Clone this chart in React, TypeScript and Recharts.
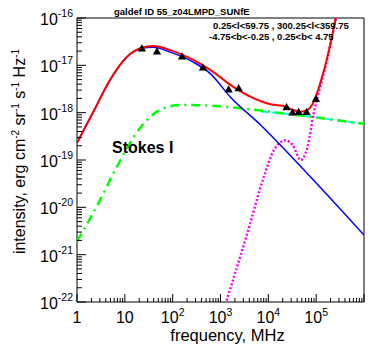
import { ComposedChart, Line, Scatter, XAxis, YAxis, ZAxis, ReferenceArea } from "recharts";

// frequency in MHz, intensity in erg cm^-2 sr^-1 s^-1 Hz^-1
const totalSpectrum = [
  { f: 1, v: 2.3e-19 },
  { f: 2.2, v: 1.05e-18 },
  { f: 4.9, v: 4.9e-18 },
  { f: 11, v: 1.5e-17 },
  { f: 21, v: 2.3e-17 },
  { f: 39, v: 2.55e-17 },
  { f: 89, v: 2.1e-17 },
  { f: 270, v: 1.3e-17 },
  { f: 620, v: 7.9e-18 },
  { f: 1860, v: 3.5e-18 },
  { f: 4300, v: 2.15e-18 },
  { f: 11000, v: 1.5e-18 },
  { f: 23000, v: 1.35e-18 },
  { f: 32000, v: 1.15e-18 },
  { f: 47000, v: 1.05e-18 },
  { f: 66000, v: 1.15e-18 },
  { f: 82000, v: 1.45e-18 },
  { f: 98000, v: 2.15e-18 },
  { f: 124000, v: 4.5e-18 },
  { f: 166000, v: 1.3e-17 },
  { f: 211000, v: 3.8e-17 },
  { f: 257000, v: 1e-16 },
  { f: 309000, v: 2.4e-16 },
];

const synchrotron = [
  { f: 1, v: 2.3e-19 },
  { f: 2.2, v: 1.05e-18 },
  { f: 4.9, v: 4.9e-18 },
  { f: 11, v: 1.5e-17 },
  { f: 21, v: 2.25e-17 },
  { f: 39, v: 2.4e-17 },
  { f: 89, v: 1.9e-17 },
  { f: 270, v: 1.17e-17 },
  { f: 620, v: 6.6e-18 },
  { f: 1600, v: 2.15e-18 },
  { f: 6900, v: 5.5e-19 },
  { f: 47000, v: 7.4e-20 },
  { f: 1000000, v: 2.6e-21 },
];

const freeFree = [
  { f: 1, v: 1.9e-21 },
  { f: 3, v: 1.4e-20 },
  { f: 6.8, v: 7.2e-20 },
  { f: 21, v: 4.8e-19 },
  { f: 55, v: 1.15e-18 },
  { f: 145, v: 1.45e-18 },
  { f: 620, v: 1.4e-18 },
  { f: 2240, v: 1.26e-18 },
  { f: 18000, v: 9.8e-19 },
  { f: 1000000, v: 5.8e-19 },
];

const freeFreeAlt = [
  { f: 7000, v: 1.06e-18 },
  { f: 18000, v: 9.7e-19 },
  { f: 1000000, v: 5.8e-19 },
];

const dust = [
  { f: 1260, v: 8.9e-23 },
  { f: 1820, v: 2.9e-22 },
  { f: 3630, v: 2.8e-21 },
  { f: 8100, v: 4.5e-20 },
  { f: 13000, v: 1.6e-19 },
  { f: 23000, v: 2.6e-19 },
  { f: 32000, v: 2.1e-19 },
  { f: 48000, v: 1.0e-19 },
  { f: 66000, v: 1.9e-19 },
  { f: 89000, v: 9.8e-19 },
  { f: 124000, v: 3.8e-18 },
  { f: 166000, v: 1.23e-17 },
  { f: 211000, v: 3.7e-17 },
  { f: 257000, v: 9.9e-17 },
  { f: 309000, v: 2.4e-16 },
];

const observed = [
  { f: 22.7, v: 2.2e-17 },
  { f: 47, v: 1.9e-17 },
  { f: 157, v: 1.5e-17 },
  { f: 430, v: 8.7e-18 },
  { f: 1480, v: 3.0e-18 },
  { f: 2400, v: 3.2e-18 },
  { f: 24000, v: 1.27e-18 },
  { f: 32000, v: 9.8e-19 },
  { f: 43000, v: 1.0e-18 },
  { f: 63000, v: 1.0e-18 },
  { f: 99000, v: 1.9e-18 },
];

const xDecades = [1, 10, 100, 1000, 10000, 100000, 1000000];
const yDecades = [1e-22, 1e-21, 1e-20, 1e-19, 1e-18, 1e-17, 1e-16];

const withMinors = (decades: number[]) => {
  const out: number[] = [];
  decades.forEach((d, i) => {
    out.push(d);
    if (i < decades.length - 1) for (let m = 2; m <= 9; m++) out.push(d * m);
  });
  return out;
};
const xTicks = withMinors(xDecades);
const yTicks = withMinors(yDecades);

const FONT = "'Liberation Sans', Arial, Helvetica, sans-serif";

const decadeOf = (v: number) => {
  const l = Math.log10(v);
  const e = Math.round(l);
  return { e, major: Math.abs(l - e) < 1e-6 };
};

const XTick = (props: any) => {
  const { x, y, payload } = props;
  const { e, major } = decadeOf(payload.value);
  return (
    <g>
      <line x1={x} x2={x} y1={y} y2={y - (major ? 8 : 4)} stroke="#000" />
      {major && e <= 5 && (
        <text x={x} y={y + 21} textAnchor="middle" fontSize={16} fontFamily={FONT} fill="#000">
          {e === 0 ? "1" : e === 1 ? "10" : "10"}
          {e > 1 && (
            <tspan dy={-7} fontSize={10.5}>
              {e}
            </tspan>
          )}
        </text>
      )}
    </g>
  );
};

const YTick = (props: any) => {
  const { x, y, payload } = props;
  const { e, major } = decadeOf(payload.value);
  return (
    <g>
      <line x1={x} x2={x + (major ? 9 : 5)} y1={y} y2={y} stroke="#000" />
      {major && (
        <text x={x - 4} y={y + 7} textAnchor="end" fontSize={16} fontFamily={FONT} fill="#000">
          10
          <tspan dy={-8} fontSize={10.5}>
            {e}
          </tspan>
        </text>
      )}
    </g>
  );
};

export default function App() {
  return (
    <div style={{ position: "absolute", left: 0, top: 0, width: 371, height: 357, background: "#fff" }}>
      <ComposedChart width={371} height={357} margin={{ top: 18, right: 7, bottom: 25, left: 17 }}>
        <XAxis
          dataKey="f"
          type="number"
          scale="log"
          domain={[1, 1000000]}
          allowDataOverflow
          ticks={xTicks}
          interval={0}
          tick={<XTick />}
          tickLine={false}
          axisLine={false}
          tickSize={0}
          tickMargin={0}
          height={30}
        />
        <YAxis
          type="number"
          scale="log"
          domain={[1e-22, 1e-16]}
          allowDataOverflow
          ticks={yTicks}
          interval={0}
          tick={<YTick />}
          tickLine={false}
          axisLine={false}
          tickSize={0}
          tickMargin={0}
          width={60}
        />
        <ZAxis type="number" range={[30, 30]} />
        <Line data={freeFreeAlt} dataKey="v" type="monotone" stroke="#00ffff" strokeWidth={2} strokeDasharray="7 4" dot={false} activeDot={false} isAnimationActive={false} />
        <Line data={freeFree} dataKey="v" type="monotone" stroke="#00ff00" strokeWidth={2.5} strokeDasharray="9 5 2 5" dot={false} activeDot={false} isAnimationActive={false} />
        <Line data={dust} dataKey="v" type="monotone" stroke="#ff00ff" strokeWidth={2.5} strokeDasharray="2 2" dot={false} activeDot={false} isAnimationActive={false} />
        <Line data={synchrotron} dataKey="v" type="monotone" stroke="#0000ff" strokeWidth={1.5} dot={false} activeDot={false} isAnimationActive={false} />
        <Line data={totalSpectrum} dataKey="v" type="monotone" stroke="#ff0000" strokeWidth={2} dot={false} activeDot={false} isAnimationActive={false} />
        <Scatter data={observed} dataKey="v" shape="triangle" fill="#000" isAnimationActive={false} />
        <ReferenceArea x1={1} x2={1000000} y1={1e-22} y2={1e-16} fill="none" stroke="#000" strokeWidth={1} ifOverflow="visible" />
      </ComposedChart>
      <svg width={371} height={357} style={{ position: "absolute", left: 0, top: 0, pointerEvents: "none" }} fontFamily={FONT}>
        <text x={114} y={15} fontSize={9.5} fontWeight="bold">galdef ID 55_z04LMPD_SUNfE</text>
        <text x={213} y={29} fontSize={9.5} fontWeight="bold">0.25&lt;l&lt;59.75 , 300.25&lt;l&lt;359.75</text>
        <text x={209} y={40} fontSize={9.5} fontWeight="bold">-4.75&lt;b&lt;-0.25 ,  0.25&lt;b&lt; 4.75</text>
        <text x={112} y={153} fontSize={16} fontWeight="bold">Stokes I</text>
        <text x={227.5} y={341} fontSize={16.5} textAnchor="middle">frequency, MHz</text>
        <text x={25} y={151.5} fontSize={16} textAnchor="middle" transform="rotate(-90, 25, 151.5)">
          intensity, erg cm<tspan dy={-6} fontSize={10}>-2</tspan>
          <tspan dy={6}> sr</tspan>
          <tspan dy={-6} fontSize={10}>-1</tspan>
          <tspan dy={6}> s</tspan>
          <tspan dy={-6} fontSize={10}>-1</tspan>
          <tspan dy={6}> Hz</tspan>
          <tspan dy={-6} fontSize={10}>-1</tspan>
        </text>
      </svg>
    </div>
  );
}
